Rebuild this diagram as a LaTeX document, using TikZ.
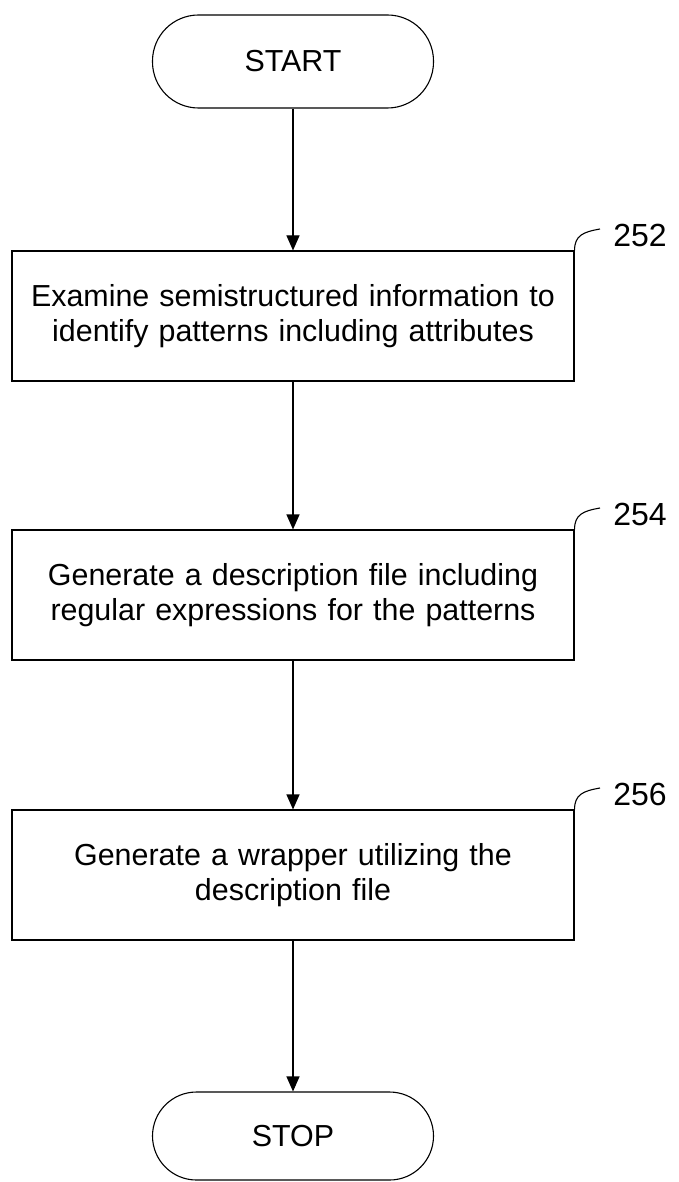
\documentclass[tikz,border=0pt]{standalone}
\usepackage{fontspec}
\setmainfont{Liberation Sans}
\usetikzlibrary{arrows.meta}
\begin{document}
\begin{tikzpicture}[x=1pt,y=-1pt,
  every node/.style={font=\fontsize{30.4}{35}\selectfont},
  stepbox/.style={draw, line width=1.1pt, minimum width=562pt, minimum height=130pt, inner sep=0pt, text width=540pt, align=center},
  term/.style={draw, line width=1.1pt, rounded corners=44pt, minimum width=281pt, minimum height=90pt, inner sep=0pt},
  flow/.style={line width=1.1pt, -{Triangle[length=15pt,width=13pt]}},
  lead/.style={line width=1.1pt},
  reflabel/.style={font=\fontsize{32}{36}\selectfont}]
\useasboundingbox (0,0) rectangle (678,1182);
\node[term, minimum height=93pt, rounded corners=46pt] (start) at (293,61.5) {START};
\node[stepbox] (b1) at (293,316) {Examine semistructured information to\\identify patterns including attributes};
\node[stepbox] (b2) at (293,595) {Generate a description file including\\regular expressions for the patterns};
\node[stepbox] (b3) at (293,875) {Generate a wrapper utilizing the\\description file};
\node[term, minimum height=88pt] (stop) at (293,1136) {STOP};
\draw[flow] (start.south) -- (b1.north);
\draw[flow] (b1.south) -- (b2.north);
\draw[flow] (b2.south) -- (b3.north);
\draw[flow] (b3.south) -- (stop.north);
\node[reflabel] (r1) at (640,235) {252};
\node[reflabel] (r2) at (640,514) {254};
\node[reflabel] (r3) at (640,794) {256};
\coordinate (c1) at (600,229);
\coordinate (c2) at (600,508);
\coordinate (c3) at (600,788);
\draw[lead] (b1.north east) .. controls +(0,-15) and +(-17,3) .. (c1);
\draw[lead] (b2.north east) .. controls +(0,-15) and +(-17,3) .. (c2);
\draw[lead] (b3.north east) .. controls +(0,-15) and +(-17,3) .. (c3);
\end{tikzpicture}
\end{document}
